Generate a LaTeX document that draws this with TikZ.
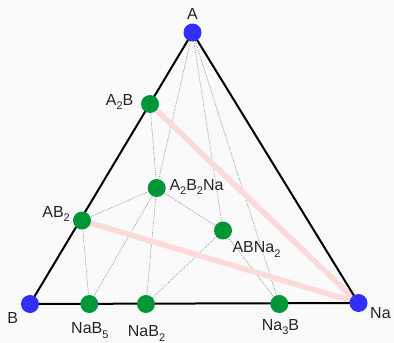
\documentclass[tikz,border=0pt]{standalone}
\usepackage{fontspec}
\setmainfont{Liberation Sans}
\newcommand\sbs[1]{\raisebox{-0.3em}{\fontsize{11}{11}\selectfont #1}}
\definecolor{vblue}{RGB}{48,48,250}
\definecolor{vgreen}{RGB}{0,150,55}
\definecolor{tiepink}{RGB}{252,218,218}
\definecolor{dotgray}{RGB}{160,160,160}
\begin{document}
\begin{tikzpicture}[x=1pt,y=-1pt,
  bnode/.style={circle,fill=vblue,inner sep=0pt,minimum size=18pt},
  gnode/.style={circle,fill=vgreen,inner sep=0pt,minimum size=18pt},
  tie/.style={dotgray,line width=0.8pt,dash pattern=on 1pt off 1.2pt},
  hull/.style={tiepink,line width=5.5pt},
  edge/.style={black,line width=2pt},
  lbl/.style={font=\fontsize{16}{16}\selectfont,inner sep=0pt,text=black!85}]
\fill[white!98!black] (0,0) rectangle (394,343);
\useasboundingbox (0,0) rectangle (394,343);
% positions
\coordinate (pA) at (192.5,32.5);
\coordinate (pB) at (30,304);
\coordinate (pNa) at (358.5,303);
\coordinate (pA2B) at (150,104);
\coordinate (pAB2) at (82,220.5);
\coordinate (pA2B2Na) at (156.7,188);
\coordinate (pABNa2) at (223,230.5);
\coordinate (pNaB5) at (89.3,304);
\coordinate (pNaB2) at (146,304);
\coordinate (pNa3B) at (279.3,304);
% tie lines
\draw[tie] (pA) -- (pA2B2Na);
\draw[tie] (pA) -- (pABNa2);
\draw[tie] (pA) -- (pNa3B);
\draw[tie] (pA2B) -- (pA2B2Na);
\draw[tie] (pA2B2Na) -- (pAB2);
\draw[tie] (pA2B2Na) -- (pABNa2);
\draw[tie] (pA2B2Na) -- (pNaB5);
\draw[tie] (pA2B2Na) -- (pNaB2);
\draw[tie] (pAB2) -- (pNaB5);
\draw[tie] (pABNa2) -- (pNaB2);
\draw[tie] (pABNa2) -- (pNa3B);
% hull
\draw[hull] (pA2B) -- (pNa);
\draw[hull] (pAB2) -- (pNa);
% triangle
\draw[edge] (pA) -- (pB) -- (pNa) -- cycle;
% nodes
\node[bnode] (A) at (pA) {};
\node[bnode] (B) at (pB) {};
\node[bnode] (Na) at (pNa) {};
\node[gnode] (A2B) at (pA2B) {};
\node[gnode] (AB2) at (pAB2) {};
\node[gnode] (A2B2Na) at (pA2B2Na) {};
\node[gnode] (ABNa2) at (pABNa2) {};
\node[gnode] (NaB5) at (pNaB5) {};
\node[gnode] (NaB2) at (pNaB2) {};
\node[gnode] (Na3B) at (pNa3B) {};
% labels
\node[lbl,anchor=base] (lA) at (192.5,19) {A};
\node[lbl,anchor=base east] (lA2B) at (133.5,105) {A\sbs{2}B};
\node[lbl,anchor=base east] (lAB2) at (70,217) {AB\sbs{2}};
\node[lbl,anchor=base west] (lA2B2Na) at (169.3,190) {A\sbs{2}B\sbs{2}Na};
\node[lbl,anchor=base west] (lABNa2) at (232.3,252.7) {ABNa\sbs{2}};
\node[lbl,anchor=base west] (lB) at (7.3,323) {B};
\node[lbl,anchor=base west] (lNa) at (370,318) {Na};
\node[lbl,anchor=base west] (lNaB5) at (71,333.3) {NaB\sbs{5}};
\node[lbl,anchor=base west] (lNaB2) at (127.7,336.7) {NaB\sbs{2}};
\node[lbl,anchor=base west] (lNa3B) at (261.7,330) {Na\sbs{3}B};
\end{tikzpicture}
\end{document}
